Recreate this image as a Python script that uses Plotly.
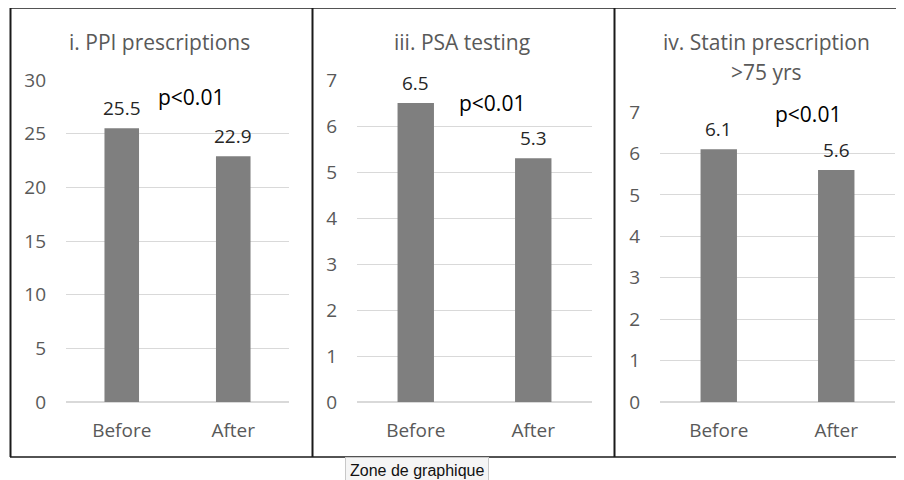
import plotly.graph_objects as go

categories = ["Before", "After"]
ppi_values = [25.5, 22.9]
psa_values = [6.5, 5.3]
statin_values = [6.1, 5.6]
titles = ["i. PPI prescriptions", "iii. PSA testing", "iv. Statin prescription", ">75 yrs"]
p_label = "p<0.01"

W, H = 904, 480
OFF = 8  # page body margin
def px(x): return (x - OFF) / W
def py(y): return 1 - (y - OFF) / H

FONT = "Open Sans, Carlito, Calibri, sans-serif"
GREY = "#595959"
BAR = "#7f7f7f"
GRID = "#d9d9d9"

fig = go.Figure()

panels = [
    dict(vals=ppi_values, xd=[66, 289], yd=[402, 80], rng=[0, 30], dtick=5, ax=""),
    dict(vals=psa_values, xd=[357, 592], yd=[402, 80], rng=[0, 7], dtick=1, ax="2"),
    dict(vals=statin_values, xd=[660, 895], yd=[402, 112], rng=[0, 7], dtick=1, ax="3"),
]

annotations = []
for p in panels:
    fig.add_trace(go.Bar(
        x=categories, y=p["vals"], marker=dict(color=BAR, line=dict(width=0)),
        xaxis="x" + p["ax"], yaxis="y" + p["ax"], showlegend=False, hoverinfo="skip",
    ))
    fig.update_layout(**{
        "xaxis" + p["ax"]: dict(
            domain=[px(p["xd"][0]), px(p["xd"][1])], anchor="y" + p["ax"],
            showgrid=False, showline=False, ticks="", zeroline=False, automargin=False,
            tickfont=dict(family=FONT, size=19, color=GREY), ticklabelstandoff=15,
            fixedrange=True,
        ),
        "yaxis" + p["ax"]: dict(
            domain=[py(p["yd"][0]), py(p["yd"][1])], anchor="x" + p["ax"],
            range=p["rng"], dtick=p["dtick"], showgrid=True, gridcolor=GRID, gridwidth=1,
            zeroline=True, zerolinecolor=GRID, zerolinewidth=1.5, showline=False, ticks="",
            automargin=False,
            tickfont=dict(family=FONT, size=19, color=GREY), ticklabelstandoff=19,
            fixedrange=True,
        ),
    })
    for c, v in zip(categories, p["vals"]):
        annotations.append(dict(
            x=c, y=v, xref="x" + p["ax"], yref="y" + p["ax"], text=f"{v:.1f}",
            showarrow=False, yanchor="bottom", yshift=5,
            font=dict(family=FONT, size=19, color="#262626"),
        ))

for text, x, y in [(titles[0], 159, 42), (titles[1], 462, 42), (titles[2], 766, 42), (titles[3], 766, 72)]:
    annotations.append(dict(x=px(x), y=py(y), xref="paper", yref="paper", text=text,
                            showarrow=False, xanchor="center", yanchor="middle",
                            font=dict(family=FONT, size=21, color=GREY)))
for x, y in [(191, 97), (492, 103), (808, 114)]:
    annotations.append(dict(x=px(x), y=py(y), xref="paper", yref="paper", text=p_label,
                            showarrow=False, xanchor="center", yanchor="middle",
                            font=dict(family=FONT, size=21, color="#000000")))

annotations.append(dict(x=px(417), y=py(470), xref="paper", yref="paper", text="Zone de graphique",
                        showarrow=False, xanchor="center", yanchor="middle",
                        bgcolor="#f5f5f5", bordercolor="#c8c8c8", borderwidth=1, borderpad=4,
                        font=dict(family="Liberation Sans, Arial, sans-serif", size=16, color="#111111")))

shapes = []
LC = "#1a1a1a"
shapes.append(dict(type="line", xref="paper", yref="paper", x0=px(10), x1=px(920), y0=py(8), y1=py(8), line=dict(color=LC, width=1.5)))
shapes.append(dict(type="line", xref="paper", yref="paper", x0=px(10), x1=px(920), y0=py(457), y1=py(457), line=dict(color=LC, width=1.5)))
for x in [10.5, 312.5, 614.5]:
    shapes.append(dict(type="line", xref="paper", yref="paper", x0=px(x), x1=px(x), y0=py(8), y1=py(457), line=dict(color=LC, width=2)))

fig.update_layout(
    width=W, height=H, margin=dict(l=0, r=0, t=0, b=0, autoexpand=False),
    paper_bgcolor="white", plot_bgcolor="white",
    bargap=0.69, annotations=annotations, shapes=shapes, showlegend=False,
)

fig.write_html("out.html", config={"displayModeBar": False})
